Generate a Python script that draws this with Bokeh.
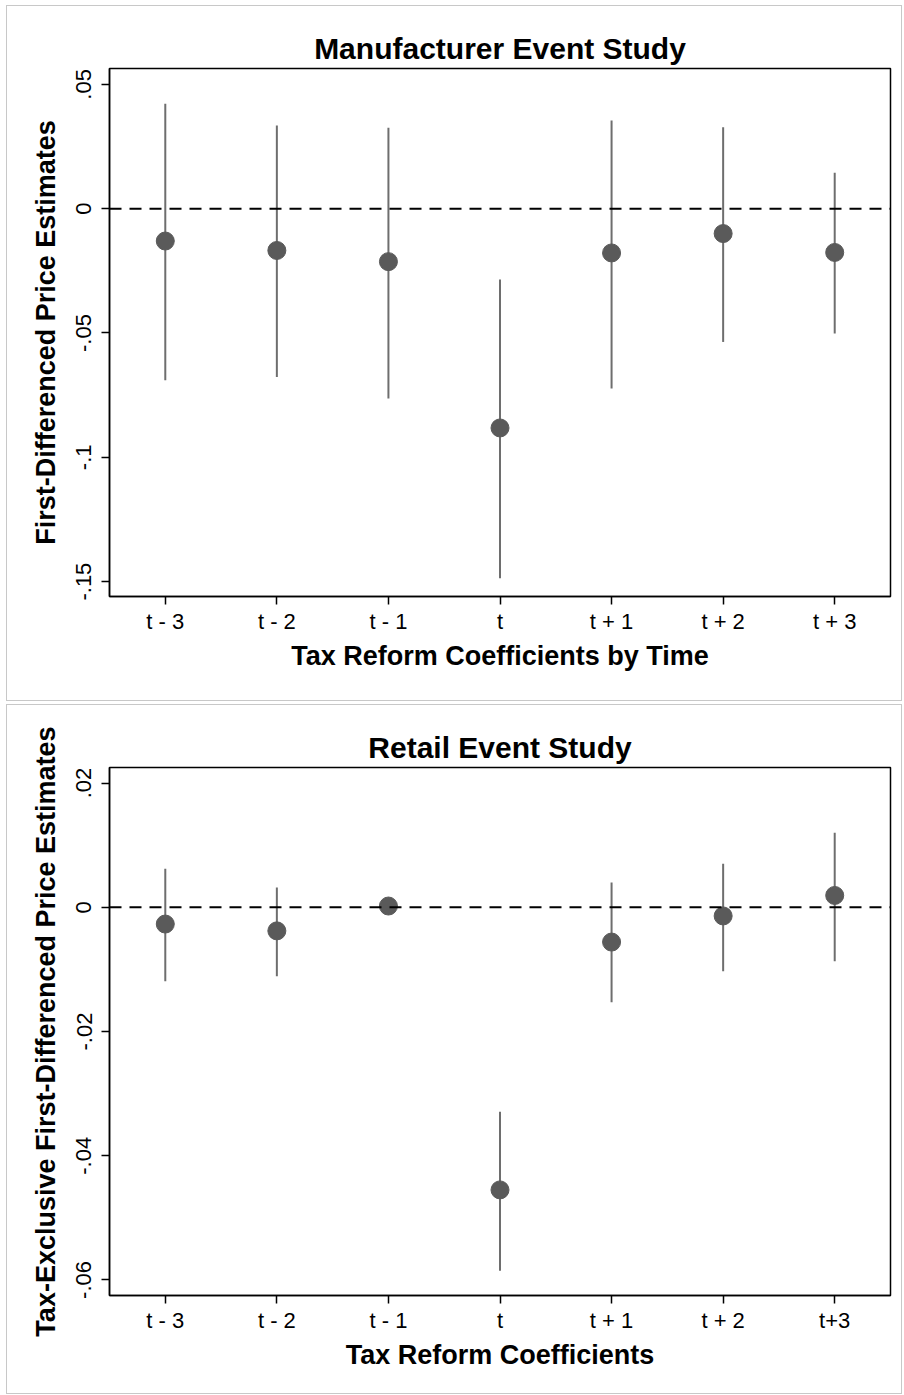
from bokeh.plotting import figure
from bokeh.models import Range1d, FixedTicker, Span, ColumnDataSource
from bokeh.layouts import column
from bokeh.embed import file_html
from bokeh.resources import INLINE

# ---------------- data ----------------
x_pos = [1, 2, 3, 4, 5, 6, 7]

labels_manu = ["t - 3", "t - 2", "t - 1", "t", "t + 1", "t + 2", "t + 3"]
coef_manu = [-0.0130, -0.0168, -0.0213, -0.0882, -0.0178, -0.0100, -0.0176]
lo_manu = [-0.0690, -0.0677, -0.0764, -0.1487, -0.0723, -0.0536, -0.0502]
hi_manu = [0.0422, 0.0335, 0.0326, -0.0285, 0.0355, 0.0328, 0.0145]
yticks_manu = [0.05, 0.0, -0.05, -0.10, -0.15]
yticklabels_manu = [".05", "0", "-.05", "-.1", "-.15"]

labels_ret = ["t - 3", "t - 2", "t - 1", "t", "t + 1", "t + 2", "t+3"]
coef_ret = [-0.0027, -0.0038, 0.0002, -0.0455, -0.0056, -0.0014, 0.0019]
lo_ret = [-0.0119, -0.0111, 0.0002, -0.0585, -0.0153, -0.0103, -0.0087]
hi_ret = [0.0062, 0.0032, 0.0002, -0.0329, 0.0040, 0.0070, 0.0120]
yticks_ret = [0.02, 0.0, -0.02, -0.04, -0.06]
yticklabels_ret = [".02", "0", "-.02", "-.04", "-.06"]

FONT = "Liberation Sans"


def make_panel(title, xlabel, ylabel, labels, coef, lo, hi, yticks, yticklabels,
               yrange, height, top, bottom):
    p = figure(width=896, height=height, output_backend="svg", toolbar_location=None,
               x_range=Range1d(0.5, 7.5), y_range=Range1d(*yrange),
               min_border_left=102, min_border_right=13,
               min_border_top=top, min_border_bottom=bottom)
    p.styles = {"border": "1px solid #c8c8c8"}
    p.background_fill_color = "white"
    p.border_fill_color = "white"
    p.outline_line_color = "black"
    p.outline_line_width = 1.5
    p.xgrid.visible = False
    p.ygrid.visible = False

    p.title.text = title
    p.title.align = "center"
    p.title.text_font = FONT
    p.title.text_font_size = "30px"
    p.title.text_font_style = "bold"
    p.title.text_color = "black"
    p.title.standoff = 8

    src = ColumnDataSource(dict(x=x_pos, coef=coef, lo=lo, hi=hi))
    p.add_layout(Span(location=0, dimension="width", line_color="black",
                      line_width=2, line_dash="12 8"))
    p.segment(x0="x", y0="lo", x1="x", y1="hi", source=src,
              line_color="#6e6e6e", line_width=2)
    p.scatter(x="x", y="coef", source=src, size=18, fill_color="#5a5a5a",
              line_color="#5a5a5a")

    for ax in (p.xaxis[0], p.yaxis[0]):
        ax.axis_line_color = "black"
        ax.axis_line_width = 1.5
        ax.major_tick_line_color = "black"
        ax.major_tick_line_width = 1.5
        ax.major_tick_out = 8
        ax.major_tick_in = 0
        ax.minor_tick_line_color = None
        ax.major_label_text_font = FONT
        ax.major_label_text_font_size = "22px"
        ax.major_label_text_color = "black"
        ax.axis_label_text_font = FONT
        ax.axis_label_text_font_size = "27px"
        ax.axis_label_text_font_style = "bold"
        ax.axis_label_text_color = "black"

    p.xaxis.ticker = FixedTicker(ticks=x_pos)
    p.xaxis.major_label_overrides = {x: l for x, l in zip(x_pos, labels)}
    p.xaxis.axis_label = xlabel
    p.xaxis.major_label_standoff = 4
    p.xaxis.axis_label_standoff = 4

    p.yaxis.ticker = FixedTicker(ticks=yticks)
    p.yaxis.major_label_overrides = {t: l for t, l in zip(yticks, yticklabels)}
    p.yaxis.major_label_orientation = "vertical"
    p.yaxis.axis_label = ylabel
    p.yaxis.major_label_standoff = 10
    p.yaxis.axis_label_standoff = 13
    return p


p1 = make_panel("Manufacturer Event Study", "Tax Reform Coefficients by Time",
                "First-Differenced Price Estimates", labels_manu, coef_manu,
                lo_manu, hi_manu, yticks_manu, yticklabels_manu,
                (-0.1560, 0.0564), 696, 62, 106)
p2 = make_panel("Retail Event Study", "Tax Reform Coefficients",
                "Tax-Exclusive First-Differenced Price Estimates", labels_ret, coef_ret,
                lo_ret, hi_ret, yticks_ret, yticklabels_ret,
                (-0.0625, 0.0225), 690, 62, 100)

layout = column(p1, p2, spacing=3)
layout.styles = {"margin-left": "6px", "margin-top": "5px"}
open("out.html", "w").write(file_html(layout, INLINE))
